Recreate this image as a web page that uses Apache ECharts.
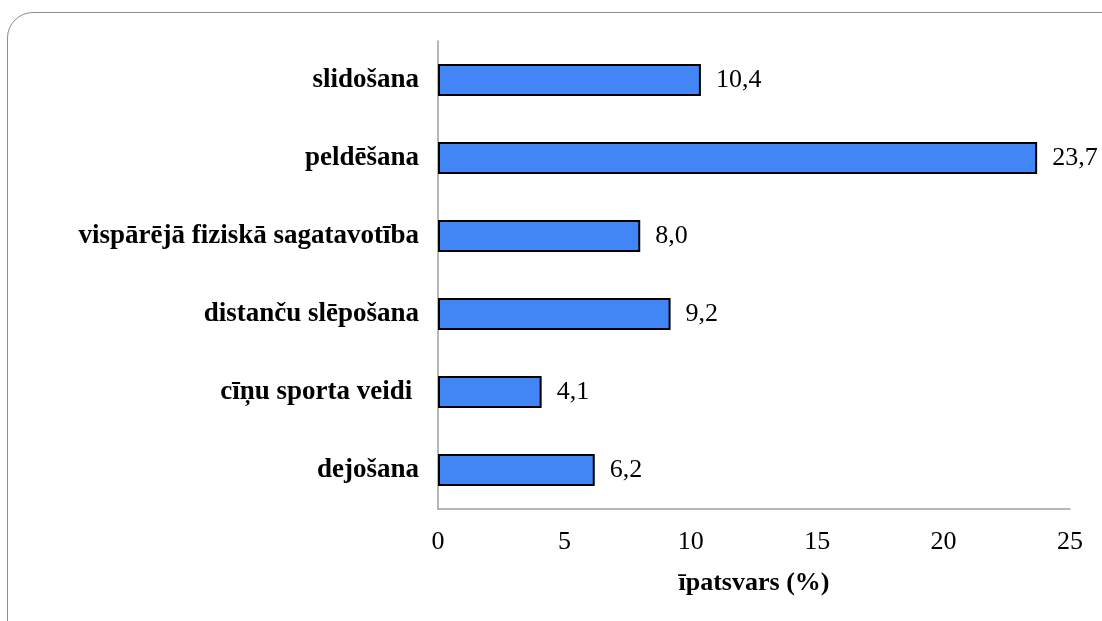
<!DOCTYPE html>
<html>
<head>
<meta charset="utf-8">
<script src="https://cdn.jsdelivr.net/npm/echarts@6/dist/echarts.min.js"></script>
<style>
  html, body { margin: 0; padding: 0; background: #fff; overflow: hidden; }
  .frame {
    position: absolute; left: 7px; top: 12px;
    width: 1130px; height: 640px;
    border: 1.5px solid #8c8c8c; border-radius: 26px;
    box-sizing: border-box;
  }
  #chart { position: absolute; left: 0; top: 0; width: 1102px; height: 621px; }
</style>
</head>
<body>
<div class="frame"></div>
<div id="chart"></div>
<script>
// kategorijas (no augšas uz leju) un vērtības
const categories = ['slidošana', 'peldēšana', 'vispārējā fiziskā sagatavotība', 'distanču slēpošana', 'cīņu sporta veidi ', 'dejošana']
const values = [10.4, 23.7, 8.0, 9.2, 4.1, 6.2]
const xTicks = [0, 5, 10, 15, 20, 25]

const serif = '"Liberation Serif", "Times New Roman", serif'
const chart = echarts.init(document.getElementById('chart'))

chart.setOption({
  animation: false,
  grid: { left: 438, right: 32, top: 41, bottom: 112 },
  xAxis: {
    type: 'value',
    min: xTicks[0],
    max: xTicks[xTicks.length - 1],
    interval: 5,
    name: 'īpatsvars (%)',
    nameLocation: 'middle',
    nameGap: 61,
    nameTextStyle: { fontFamily: serif, fontSize: 26, fontWeight: 'bold', color: '#000' },
    axisLine: { show: true, lineStyle: { color: '#a0a0a0', width: 1.5 } },
    axisTick: { show: false },
    splitLine: { show: false },
    axisLabel: { fontFamily: serif, fontSize: 26, color: '#000', margin: 20 }
  },
  yAxis: {
    type: 'category',
    inverse: true,
    data: categories,
    axisLine: { show: true, lineStyle: { color: '#a0a0a0', width: 1.5 } },
    axisTick: { show: false },
    axisLabel: { fontFamily: serif, fontSize: 27, fontWeight: 'bold', color: '#000', margin: 19 }
  },
  series: [{
    type: 'bar',
    data: values,
    barWidth: 32,
    itemStyle: { color: '#4285f4', borderColor: '#000', borderWidth: 2 },
    label: {
      show: true,
      position: 'right',
      distance: 15,
      fontFamily: serif,
      fontSize: 26,
      color: '#000',
      formatter: p => p.value.toFixed(1).replace('.', ',')
    }
  }]
})
</script>
</body>
</html>
